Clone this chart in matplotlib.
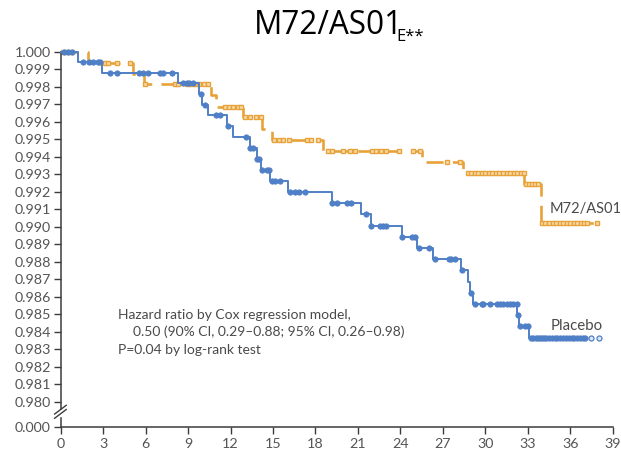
import numpy as np
import matplotlib

matplotlib.use("Agg")
import matplotlib.pyplot as plt
from matplotlib.lines import Line2D
from matplotlib.transforms import blended_transform_factory

BLUE = "#4f7fc6"
ORANGE = "#e8a23a"
AXIS = "#3c3c3c"
TEXT = "#4a4a4a"

# Kaplan-Meier steps (months, survival after event)
placebo_t = [0, 1.24, 2.9, 8.3, 9.8, 9.95, 10.43, 11.73, 12.15, 13.37, 13.85, 14.15,
             14.79, 16.08, 19.14, 21.19, 21.9, 24.09, 25.15, 26.28, 28.28, 28.8,
             28.95, 29.1, 32.26, 32.4, 33.1]
placebo_s = [1.0, 0.99943, 0.99878, 0.99819, 0.99757, 0.99695, 0.99638, 0.99575,
             0.99511, 0.99448, 0.99385, 0.99324, 0.99263, 0.99200, 0.99137, 0.99071,
             0.99004, 0.98939, 0.98876, 0.98814, 0.98752, 0.98686, 0.98623, 0.98558,
             0.98495, 0.98433, 0.98362]
placebo_end = 37.04
placebo_cens = [0.2, 0.5, 0.8, 1.6, 2.0, 2.3, 2.6, 2.8, 3.5, 3.95, 5.5, 5.85, 6.2,
                7.0, 7.25, 7.85, 8.65, 8.9, 9.1, 9.35, 9.88, 10.2, 11.0, 11.25, 11.8,
                13.1, 13.4, 13.6, 13.9, 14.0, 14.2, 14.55, 14.75, 14.9, 15.15, 15.5,
                16.2, 16.55, 16.85, 17.25, 19.15, 19.55, 20.2, 20.5, 21.6, 21.95,
                22.55, 22.8, 22.98, 24.1, 24.8, 25.05, 25.3, 26.0, 26.45, 27.4, 27.6,
                27.85, 28.33, 28.96, 29.27, 29.74, 29.86, 30.33, 30.8, 31.03, 31.27,
                31.5, 31.74, 31.97, 32.21, 32.3, 32.45, 32.8, 33.03, 33.25, 33.4,
                33.55, 33.7, 33.85, 34.0, 34.15, 34.3, 34.5, 34.7, 34.9, 35.1, 35.3,
                35.5, 35.7, 35.9, 36.1, 36.3, 36.5, 36.7, 36.9, 37.04]
placebo_open = [37.5, 38.05]

m72_t = [0, 1.9, 5.13, 5.9, 10.6, 11.0, 12.85, 14.25, 14.95, 18.55, 25.5, 28.45,
         32.75, 33.9]
m72_s = [1.0, 0.99934, 0.99874, 0.99814, 0.99750, 0.99686, 0.99625, 0.99560,
         0.99495, 0.99434, 0.99371, 0.99309, 0.99242, 0.99023]
m72_end = 37.9
m72_cens = [0.15, 0.45, 0.75, 3.1, 3.35, 3.95, 4.9, 5.95, 8.07, 8.3, 8.9, 9.2, 9.5,
            9.8, 10.1, 10.4, 11.6, 11.9, 12.2, 12.5, 12.75, 13.0, 13.4, 13.8, 14.15,
            15.1, 15.4, 15.7, 16.1, 17.4, 17.7, 18.2, 18.9, 19.15, 19.96, 20.45,
            20.8, 21.97, 22.3, 22.65, 22.98, 23.92, 24.9, 25.4, 27.27, 28.2, 28.8,
            29.0, 29.25, 29.5, 29.75, 30.0, 30.25, 30.5, 30.75, 31.0, 31.25, 31.5,
            31.75, 32.0, 32.25, 32.5, 32.7, 32.9, 33.1, 33.3, 33.5, 33.7, 34.0,
            34.25, 34.5, 34.75, 35.0, 35.25, 35.5, 35.75, 36.0, 36.25, 36.5, 36.75,
            37.0, 37.2, 37.87]

x_ticks = list(range(0, 40, 3))
y_ticks = [round(0.980 + 0.001 * i, 3) for i in range(21)]
Y_ZERO = 0.97855  # where the broken axis puts "0.000"

plt.rcParams.update({"font.family": ["Lato", "DejaVu Sans"]})


def level_at(times, surv, t):
    idx = np.searchsorted(times, t, side="right") - 1
    return np.asarray(surv)[idx]


def main():
    fig = plt.figure(figsize=(6.21, 4.5), dpi=100, facecolor="white")
    ax = fig.add_axes([60.7 / 621, 1 - 427 / 450, 552 / 621, (427 - 51.7) / 450])

    # placebo
    ax.step(placebo_t + [placebo_end], placebo_s + [placebo_s[-1]], where="post",
            color=BLUE, lw=1.4, clip_on=False, zorder=3)
    ax.plot(placebo_cens, level_at(placebo_t, placebo_s, placebo_cens), "o",
            ms=3.9, color=BLUE, mec=BLUE, mew=0.5, clip_on=False, zorder=4)
    ax.plot(placebo_open, level_at(placebo_t, placebo_s, placebo_open), "o",
            ms=3.6, mfc="#dfe8f6", mec=BLUE, mew=0.9, clip_on=False, zorder=4)

    # M72/AS01E
    ax.step(m72_t + [m72_end], m72_s + [m72_s[-1]], where="post", color=ORANGE,
            lw=1.9, dashes=(6.5, 3.5), clip_on=False, zorder=2)
    ax.plot(m72_cens, level_at(m72_t, m72_s, m72_cens), "s", ms=3.2,
            mfc="#f7dcae", mec=ORANGE, mew=1.0, clip_on=False, zorder=2.5)

    ax.set_xlim(0, 39)
    ax.set_ylim(Y_ZERO, 1.0)
    ax.set_xticks(x_ticks)
    ax.set_yticks([Y_ZERO] + y_ticks)
    ax.set_yticklabels(["0.000"] + [f"{v:.3f}" for v in y_ticks])
    ax.tick_params(axis="both", direction="out", colors=AXIS, labelcolor="#555555",
                   labelsize=10.3, width=1.0)
    ax.tick_params(axis="y", length=5, pad=2)
    ax.tick_params(axis="x", length=5, pad=3)
    for side in ("top", "right"):
        ax.spines[side].set_visible(False)
    for side in ("left", "bottom"):
        ax.spines[side].set_color(AXIS)
        ax.spines[side].set_linewidth(1.1)

    # break marks on the y-axis
    tr = blended_transform_factory(ax.transAxes, ax.transData)
    ax.plot([0, 0], [0.97922, 0.97946], color="white", lw=2.5, transform=tr,
            clip_on=False, zorder=5)
    for dy in (0.0, 0.00024):
        ax.add_line(Line2D([-0.011, 0.010], [0.97905 + dy, 0.97955 + dy],
                           transform=tr, color=AXIS, lw=1.0, clip_on=False,
                           zorder=6))

    ax.text(550 / 621, 1 - 213 / 450, "M72/AS01", transform=fig.transFigure,
            fontsize=10.5, color=TEXT, va="baseline")
    ax.text(551 / 621, 1 - 330 / 450, "Placebo", transform=fig.transFigure,
            fontsize=10.8, color=TEXT, va="baseline")

    note = [(118, 319, "Hazard ratio by Cox regression model,"),
            (133, 336.5, "0.50 (90% CI, 0.29\u20130.88; 95% CI, 0.26\u20130.98)"),
            (118, 354, "P=0.04 by log-rank test")]
    for x, y, s in note:
        fig.text(x / 621, 1 - y / 450, s, fontsize=10, color=TEXT, va="baseline")

    title = fig.text(254 / 621, 1 - 34 / 450, "M72/AS01", fontsize=22.7,
                     family=["Open Sans", "DejaVu Sans"], color="black",
                     va="baseline")
    fig.canvas.draw()
    bb = title.get_window_extent(fig.canvas.get_renderer())
    fig.text(bb.x1 / 621 - 7 / 621, 1 - 41 / 450, "E**", fontsize=12,
             family=["Open Sans", "DejaVu Sans"], color="black", va="baseline")

    fig.savefig("out.png", dpi=100, facecolor="white")
    plt.close(fig)


if __name__ == "__main__":
    main()
